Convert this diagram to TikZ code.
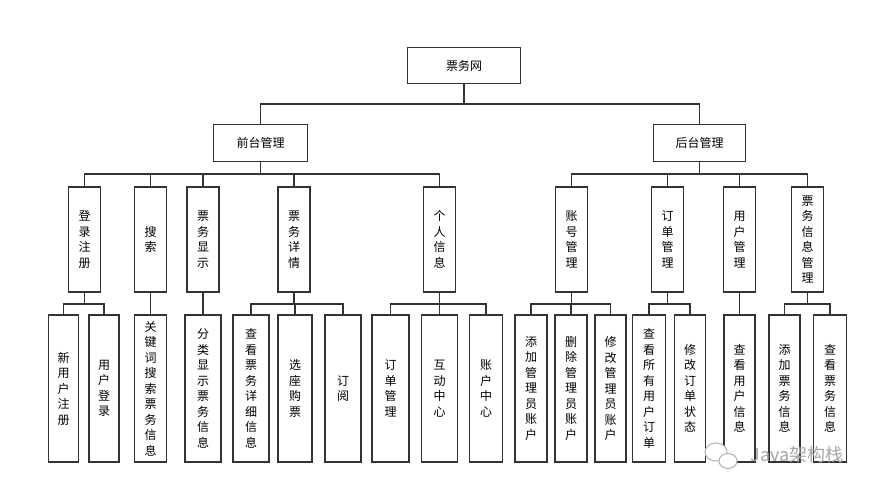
\documentclass[tikz,border=0pt]{standalone}
\usepackage{fontspec}
\newfontfamily\cjk{Noto Sans CJK SC}
\tikzset{
  box/.style={draw=black!80,line width=1.3pt,fill=white,inner sep=0pt,align=center,
    font=\cjk\fontsize{12}{15.5}\selectfont},
  midbox/.style={box,minimum width=32pt,minimum height=105pt},
  leafbox/.style={box,minimum width=#1,minimum height=147pt},
  link/.style={draw=black!80,line width=1.5pt},
}
\begin{document}
\begin{tikzpicture}[x=1pt,y=-1pt]
\useasboundingbox (0,0) rectangle (878,495);
% top levels
\node[box,minimum width=113pt,minimum height=36pt] (root) at (464,65.5) {票务网};
\node[box,minimum width=94pt,minimum height=37pt] (front) at (260.5,143) {前台管理};
\node[box,minimum width=92pt,minimum height=37pt] (back) at (699.5,143) {后台管理};
% modules
\node[midbox] (login) at (84.5,239.5) {登\\录\\注\\册};
\node[midbox] (search) at (150.5,239.5) {搜\\索};
\node[midbox] (show) at (203,239.5) {票\\务\\显\\示};
\node[midbox] (detail) at (294,239.5) {票\\务\\详\\情};
\node[midbox] (person) at (439.5,239.5) {个\\人\\信\\息};
\node[midbox] (account) at (571.5,239.5) {账\\号\\管\\理};
\node[midbox] (order) at (667.5,239.5) {订\\单\\管\\理};
\node[midbox] (user) at (739.5,239.5) {用\\户\\管\\理};
\node[midbox] (ticket) at (807.5,239.5) {票\\务\\信\\息\\管\\理};
% functions
\node[leafbox=30pt] (reg) at (63.5,388.5) {新\\用\\户\\注\\册};
\node[leafbox=30pt] (signin) at (104,388.5) {用\\户\\登\\录};
\node[leafbox=32pt] (keyword) at (150.5,388.5) {关\\键\\词\\搜\\索\\票\\务\\信\\息};
\node[leafbox=36pt] (sort) at (203,388.5) {分\\类\\显\\示\\票\\务\\信\\息};
\node[leafbox=36pt] (view) at (251,388.5) {查\\看\\票\\务\\详\\细\\信\\息};
\node[leafbox=34pt] (seat) at (295,388.5) {选\\座\\购\\票};
\node[leafbox=36pt] (sub) at (343,388.5) {订\\阅};
\node[leafbox=37pt] (myorder) at (390.5,388.5) {订\\单\\管\\理};
\node[leafbox=36pt] (chat) at (439.5,388.5) {互\\动\\中\\心};
\node[leafbox=33pt] (wallet) at (486,388.5) {账\\户\\中\\心};
\node[leafbox=32pt] (addadm) at (531,388.5) {添\\加\\管\\理\\员\\账\\户};
\node[leafbox=32pt] (deladm) at (571,388.5) {删\\除\\管\\理\\员\\账\\户};
\node[leafbox=31pt] (modadm) at (610.5,388.5) {修\\改\\管\\理\\员\\账\\户};
\node[leafbox=33pt] (allorder) at (649,388.5) {查\\看\\所\\有\\用\\户\\订\\单};
\node[leafbox=31pt] (state) at (690,388.5) {修\\改\\订\\单\\状\\态};
\node[leafbox=31pt] (userinfo) at (739.5,388.5) {查\\看\\用\\户\\信\\息};
\node[leafbox=31pt] (addtk) at (784.5,388.5) {添\\加\\票\\务\\信\\息};
\node[leafbox=33pt] (viewtk) at (830,388.5) {查\\看\\票\\务\\信\\息};
% connectors
\foreach \c in {front,back} \draw[link] (root.south) -- ++(0,20) -| (\c.north);
\foreach \c in {login,search,show,detail,person} \draw[link] (front.south) -- ++(0,12) -| (\c.north);
\foreach \c in {account,order,user,ticket} \draw[link] (back.south) -- ++(0,12) -| (\c.north);
\foreach \p/\c in {login/reg,login/signin,search/keyword,show/sort,detail/view,detail/seat,detail/sub,
  person/myorder,person/chat,person/wallet,account/addadm,account/deladm,account/modadm,
  order/allorder,order/state,user/userinfo,ticket/addtk,ticket/viewtk}
  \draw[link] (\p.south) -- ++(0,11.5) -| (\c.north);
% watermark
\draw[black!30,fill=white,line width=1pt] (716,452) ellipse (11pt and 9pt);
\draw[black!30,fill=white,line width=1pt] (728,461) ellipse (9pt and 7.5pt);
\node[text=black!35,font=\cjk\fontsize{18}{18}\selectfont] (wm) at (797,455) {Java架构栈};
\end{tikzpicture}
\end{document}
